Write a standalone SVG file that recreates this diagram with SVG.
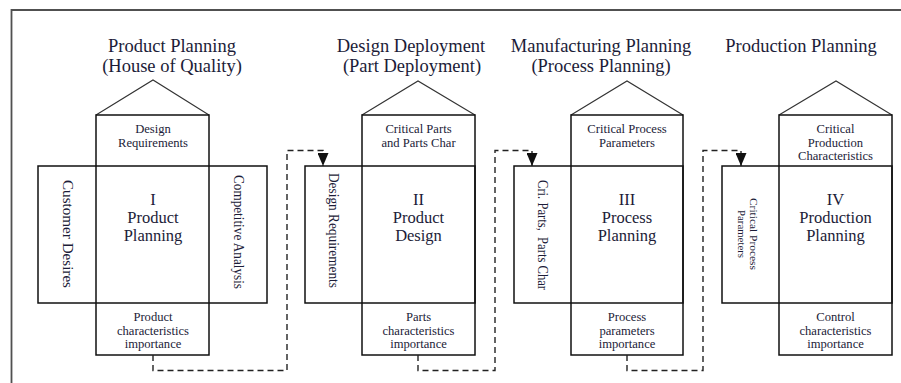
<svg xmlns="http://www.w3.org/2000/svg" width="901" height="383" viewBox="0 0 901 383">
  <style>
    .frame { fill: none; stroke: #505050; stroke-width: 1.8; }
    .roof { fill: none; stroke: #333; stroke-width: 1.1; stroke-linejoin: miter; }
    .box { fill: none; stroke: #111; stroke-width: 1.5; }
    .link { fill: none; stroke: #222; stroke-width: 1.4; stroke-dasharray: 6 4; }
    text { font-family: "Liberation Serif", "Times New Roman", serif; fill: #1c1c38; text-anchor: middle; }
    .title { font-size: 18.5px; }
    .main { font-size: 16.5px; }
    .small { font-size: 12.6px; }
    .side { font-size: 14px; }
    .tiny { font-size: 10.5px; }
  </style>
  <defs>
    <marker id="arrow" viewBox="0 0 13 11" refX="13" refY="5.5" markerWidth="13" markerHeight="11" markerUnits="userSpaceOnUse" orient="auto">
      <path d="M0,0 L13,5.5 L0,11 z" fill="#111"/>
    </marker>
  </defs>

  <!-- page frame -->
  <path class="frame" d="M11.5,383 V10 H901"/>

  <!-- stage titles -->
  <g id="titles">
    <text class="title" x="172" y="52">Product Planning</text>
    <text class="title" x="172" y="72">(House of Quality)</text>
    <text class="title" x="411" y="52">Design Deployment</text>
    <text class="title" x="412" y="72">(Part Deployment)</text>
    <text class="title" x="601" y="52">Manufacturing Planning</text>
    <text class="title" x="601" y="72">(Process Planning)</text>
    <text class="title" x="801" y="52">Production Planning</text>
  </g>

  <!-- House I -->
  <g id="house-1">
    <polyline class="roof" points="96,115 153,80 209,115"/>
    <rect class="box" x="96" y="115" width="113" height="240"/>
    <rect class="box" x="38" y="166" width="229" height="137"/>
    <text class="small" x="153" y="133">Design</text>
    <text class="small" x="153" y="147">Requirements</text>
    <text class="main" x="153" y="205">I</text>
    <text class="main" x="153" y="223">Product</text>
    <text class="main" x="153" y="241">Planning</text>
    <text class="side" transform="translate(68,234) rotate(90)" y="5" textLength="108" lengthAdjust="spacingAndGlyphs">Customer Desires</text>
    <text class="side" transform="translate(239,232) rotate(90)" y="5" textLength="114" lengthAdjust="spacingAndGlyphs">Competitive Analysis</text>
    <text class="small" x="153" y="321">Product</text>
    <text class="small" x="153" y="334.5">characteristics</text>
    <text class="small" x="153" y="347.5">importance</text>
  </g>

  <!-- House II -->
  <g id="house-2">
    <polyline class="roof" points="362,115 418,81 475,115"/>
    <rect class="box" x="362" y="115" width="113" height="240"/>
    <rect class="box" x="305" y="166" width="170" height="137"/>
    <text class="small" x="418.5" y="133">Critical Parts</text>
    <text class="small" x="418.5" y="147">and Parts Char</text>
    <text class="main" x="418.5" y="205">II</text>
    <text class="main" x="418.5" y="223">Product</text>
    <text class="main" x="418.5" y="241">Design</text>
    <text class="side" transform="translate(334,230.5) rotate(90)" y="5" textLength="115" lengthAdjust="spacingAndGlyphs">Design Requirements</text>
    <text class="small" x="418.5" y="321">Parts</text>
    <text class="small" x="418.5" y="334.5">characteristics</text>
    <text class="small" x="418.5" y="347.5">importance</text>
  </g>

  <!-- House III -->
  <g id="house-3">
    <polyline class="roof" points="571,115 627,81 683,115"/>
    <rect class="box" x="571" y="115" width="112" height="240"/>
    <rect class="box" x="514" y="166" width="169" height="137"/>
    <text class="small" x="627" y="133">Critical Process</text>
    <text class="small" x="627" y="147">Parameters</text>
    <text class="main" x="627" y="205">III</text>
    <text class="main" x="627" y="223">Process</text>
    <text class="main" x="627" y="241">Planning</text>
    <text class="side" transform="translate(543,235) rotate(90)" y="5" textLength="110" lengthAdjust="spacingAndGlyphs" xml:space="preserve">Cri. Parts,  Parts Char</text>
    <text class="small" x="627" y="321">Process</text>
    <text class="small" x="627" y="334.5">parameters</text>
    <text class="small" x="627" y="347.5">importance</text>
  </g>

  <!-- House IV -->
  <g id="house-4">
    <polyline class="roof" points="779,115 836,81 892,115"/>
    <rect class="box" x="779" y="115" width="113" height="240"/>
    <rect class="box" x="722" y="166" width="170" height="137"/>
    <text class="small" x="835.5" y="133">Critical</text>
    <text class="small" x="835.5" y="147">Production</text>
    <text class="small" x="835.5" y="160">Characteristics</text>
    <text class="main" x="835.5" y="205">IV</text>
    <text class="main" x="835.5" y="223">Production</text>
    <text class="main" x="835.5" y="241">Planning</text>
    <text class="tiny" transform="translate(753,234) rotate(90)" y="3.5" textLength="72" lengthAdjust="spacingAndGlyphs">Critical Process</text>
    <text class="tiny" transform="translate(741,234) rotate(90)" y="3.5" textLength="48" lengthAdjust="spacingAndGlyphs">Parameters</text>
    <text class="small" x="835.5" y="321">Control</text>
    <text class="small" x="835.5" y="334.5">characteristics</text>
    <text class="small" x="835.5" y="347.5">importance</text>
  </g>

  <!-- dashed hand-over links between houses -->
  <g id="connectors">
    <path class="link" d="M153,355 V370.5 H287 V150.5 H323 V166" marker-end="url(#arrow)"/>
    <path class="link" d="M418,355 V370.5 H495 V150.5 H532 V166" marker-end="url(#arrow)"/>
    <path class="link" d="M627,355 V370.5 H703 V150.5 H741 V166" marker-end="url(#arrow)"/>
  </g>
</svg>
